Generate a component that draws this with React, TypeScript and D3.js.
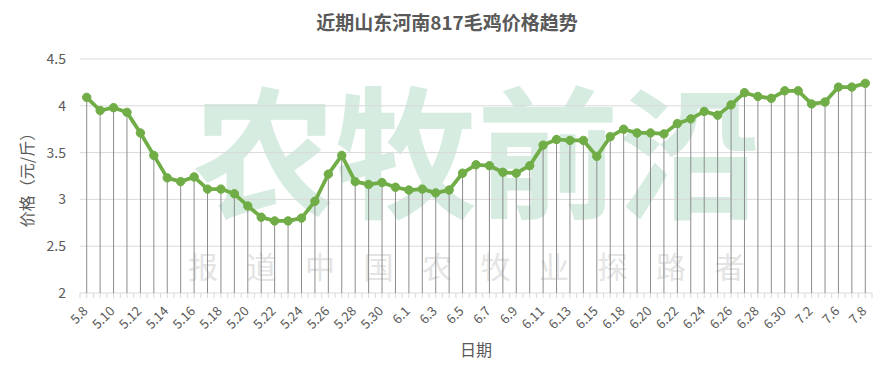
import React from "react";
import * as d3 from "d3";

const categories = [
  "5.8","5.9","5.10","5.11","5.12","5.13","5.14","5.15","5.16","5.17","5.18","5.19","5.20","5.21","5.22","5.23","5.24","5.25","5.26","5.27","5.28","5.29","5.30","5.31",
  "6.1","6.2","6.3","6.4","6.5","6.6","6.7","6.8","6.9","6.10","6.11","6.12","6.13","6.14","6.15","6.16",
  "6.18","6.19","6.20","6.21","6.22","6.23","6.24","6.25","6.26","6.27","6.28","6.29","6.30",
  "7.1","7.2","7.3","7.6","7.7","7.8"
];

const prices = [
  4.09,3.95,3.98,3.93,3.71,3.47,3.23,3.19,3.24,3.11,3.11,3.06,2.93,2.81,2.77,2.77,2.80,2.98,3.27,3.47,
  3.19,3.16,3.18,3.13,3.10,3.11,3.07,3.10,3.28,3.37,3.36,3.29,3.28,3.36,3.58,3.64,3.63,3.63,3.46,3.67,
  3.75,3.71,3.71,3.70,3.81,3.86,3.94,3.90,4.01,4.14,4.10,4.08,4.16,4.16,4.02,4.04,4.20,4.20,4.24
];

const yTicks = [2, 2.5, 3, 3.5, 4, 4.5];
const yTickLabels = ["2", "2.5", "3", "3.5", "4", "4.5"];

const title = "近期山东河南817毛鸡价格趋势";
const yTitle = "价格（元/斤）";
const xTitle = "日期";
const watermarkBig = "农牧前沿";
const watermarkSmall = ["报","道","中","国","农","牧","业","探","路","者"];

const W = 894, H = 382;
const M = { left: 80, right: 22, top: 59, bottom: 89 };
const FONT = "'Noto Sans CJK SC', 'Noto Sans', sans-serif";

export default function App() {
  const x = d3.scaleBand<string>().domain(categories).range([M.left, W - M.right]).padding(0);
  const y = d3.scaleLinear().domain([2, 4.5]).range([H - M.bottom, M.top]);
  const cx = (c: string) => (x(c) as number) + x.bandwidth() / 2;
  const line = d3.line<number>().x((_, i) => cx(categories[i])).y((d) => y(d));
  const baseY = y(2);

  const ticksX: number[] = [];
  for (let i = 0; i <= categories.length * 2; i++) ticksX.push(M.left + (i * x.bandwidth()) / 2);

  return (
    <svg width={W} height={H} style={{ position: "absolute", left: 0, top: 0, background: "#fff" }} fontFamily={FONT}>
      <rect x={0} y={0} width={W} height={H} fill="#fff" />
      {/* watermark */}
      <text x={477} y={207} textAnchor="middle" fontSize={142} fontWeight={700} fill="#cfe9dc" opacity={0.85}>
        {watermarkBig}
      </text>
      {watermarkSmall.map((c, i) => (
        <text key={i} x={203 + i * 58.5} y={278} textAnchor="middle" fontSize={30} fill="#e4e4e4">{c}</text>
      ))}
      {/* gridlines */}
      {yTicks.slice(1).map((t) => (
        <line key={t} x1={M.left} x2={W - M.right} y1={y(t)} y2={y(t)} stroke="#d9d9d9" strokeWidth={1} />
      ))}
      {/* x axis */}
      <line x1={M.left} x2={W - M.right} y1={baseY} y2={baseY} stroke="#d9d9d9" strokeWidth={1} />
      {ticksX.map((tx, i) => (
        <line key={i} x1={tx} x2={tx} y1={baseY} y2={baseY + 5} stroke="#d9d9d9" strokeWidth={1} />
      ))}
      {/* drop lines */}
      {prices.map((v, i) => (
        <line key={i} x1={cx(categories[i])} x2={cx(categories[i])} y1={y(v)} y2={baseY} stroke="#8c8c8c" strokeWidth={1} />
      ))}
      {/* line */}
      <path d={line(prices) || ""} fill="none" stroke="#70ad47" strokeWidth={3.75} strokeLinejoin="round" />
      {prices.map((v, i) => (
        <circle key={i} cx={cx(categories[i])} cy={y(v)} r={4.2} fill="#70ad47" stroke="#70ad47" />
      ))}
      {/* y tick labels */}
      {yTicks.map((t, i) => (
        <text key={t} x={66} y={y(t)} dy="0.35em" textAnchor="end" fontSize={14} fill="#595959">{yTickLabels[i]}</text>
      ))}
      {/* x tick labels */}
      {categories.map((c, i) =>
        i % 2 === 0 ? (
          <text key={c} transform={`translate(${cx(c) + 2},${baseY + 19}) rotate(-45)`} textAnchor="end" fontSize={13} fill="#595959">{c}</text>
        ) : null
      )}
      {/* titles */}
      <text x={447} y={30} textAnchor="middle" fontSize={19} fontWeight={700} fill="#595959">{title}</text>
      <text transform={`translate(33,${(M.top + baseY) / 2}) rotate(-90)`} textAnchor="middle" fontSize={16} fill="#595959">{yTitle}</text>
      <text x={476} y={356} textAnchor="middle" fontSize={16} fill="#595959">{xTitle}</text>
    </svg>
  );
}
